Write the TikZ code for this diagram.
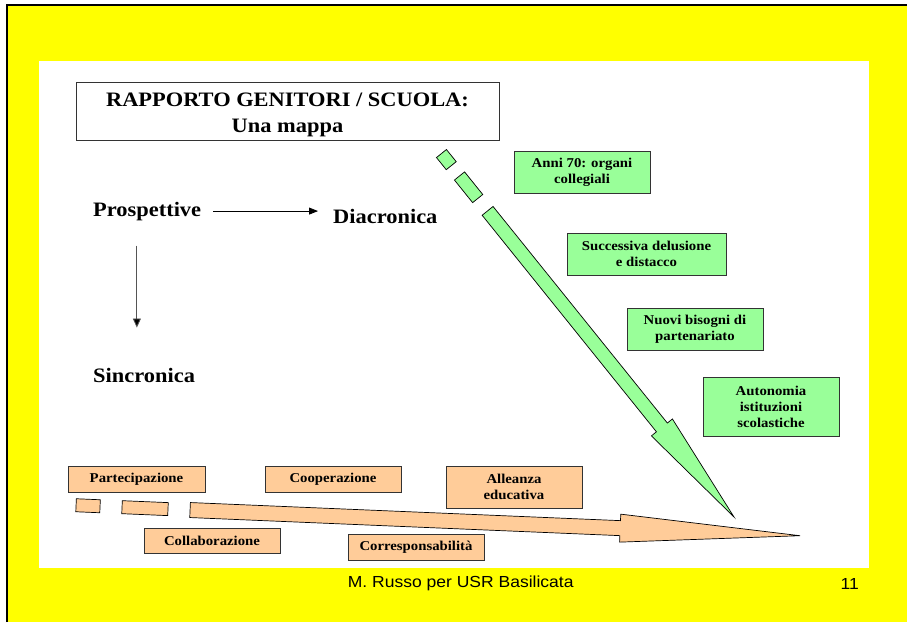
\documentclass[tikz,border=0pt]{standalone}
\usepackage{fontspec}
\setmainfont[FakeStretch=1.094]{Liberation Serif}
\newfontfamily\footfont[FakeStretch=1.094]{Liberation Sans}
\usetikzlibrary{arrows.meta}
\definecolor{slideyellow}{HTML}{FFFF00}
\definecolor{boxgreen}{HTML}{99FF99}
\definecolor{boxorange}{HTML}{FFCC99}
\definecolor{edgegray}{HTML}{333333}
\definecolor{stemgray}{HTML}{555555}

\begin{document}
\begin{tikzpicture}[x=1pt,y=-1pt,
  titlebox/.style={draw=edgegray, line width=0.9pt, fill=white,
    minimum width=423pt, minimum height=58pt, inner sep=0pt},
  titletext/.style={align=center, inner sep=0pt,
    font=\bfseries\fontsize{20.5}{26}\selectfont},
  labelbox/.style={draw=edgegray, line width=0.9pt, minimum width=136pt,
    align=center, inner sep=0pt, font=\bfseries\fontsize{13.5}{16}\selectfont},
  greenbox/.style={labelbox, fill=boxgreen},
  orangebox/.style={labelbox, fill=boxorange},
  bigword/.style={inner sep=0pt, anchor=base west,
    font=\bfseries\fontsize{20.5}{24}\selectfont},
  blockarrow/.style={draw=black, line width=0.7pt, line join=miter},
  linkarrow/.style={-{Triangle[length=9pt,width=7pt]}, line width=0.8pt},
  footer/.style={inner sep=0pt, font=\footfont\fontsize{16}{19}\selectfont}
]
\useasboundingbox (0,0) rectangle (907,622);

% slide background and frame
\fill[white] (0,0) rectangle (907,622);
\fill[slideyellow] (7,5) rectangle (907,622);
\draw[line width=2pt] (7,622) -- (7,5) -- (907,5);
\fill[white] (39,61) rectangle (869,568);

% title
\node[titlebox] (title) at (287.5,111) {};
\node[titletext] (titlelabel) at ([yshift=-3.5pt]title.center)
  {RAPPORTO GENITORI / SCUOLA:\\Una mappa};

% perspectives
\node[bigword] (prosp) at (93,216) {Prospettive};
\node[bigword] (diac) at (333,223) {Diacronica};
\node[bigword] (sinc) at (93,382) {Sincronica};
\draw[linkarrow, shorten <=12pt, shorten >=15pt] (prosp.east) -- (prosp.east -| diac.west);
\draw[linkarrow, draw=stemgray, -{Triangle[length=9pt,width=8pt,fill=black]},
  shorten <=25pt, shorten >=40pt]
  ([xshift=-10.3pt]prosp.south) -- ([xshift=-10.3pt]prosp.south |- sinc.north);

% diachronic block arrow (dashed start)
\begin{scope}[shift={(734,517)}, rotate=128.83]
  \filldraw[blockarrow, fill=boxgreen]
    (0,0) -- (115,13.5) -- (115,7) -- (393,7) -- (393,-7)
    -- (115,-7) -- (115,-13.5) -- cycle;
  \filldraw[blockarrow, fill=boxgreen] (408.8,-6.5) rectangle (437.8,6.5);
  \filldraw[blockarrow, fill=boxgreen] (451,-6.4) rectangle (466.6,6.4);
\end{scope}

% synchronic block arrow (dashed start)
\begin{scope}[shift={(800,535.7)}, rotate=177.59]
  \filldraw[blockarrow, fill=boxorange]
    (0,0) -- (180,14) -- (180,7.5) -- (610.5,7.5) -- (610.5,-7.5)
    -- (180,-7.5) -- (180,-14) -- cycle;
  \filldraw[blockarrow, fill=boxorange] (632.6,-6.5) rectangle (678.6,6.5);
  \filldraw[blockarrow, fill=boxorange] (700.6,-6.5) rectangle (724.6,6.5);
\end{scope}

% diachronic stages
\node[greenbox, minimum height=42pt] (anni) at (582,172) {Anni 70: organi\\collegiali};
\node[greenbox, minimum width=159pt, minimum height=42pt] (delus) at (646.5,254) {Successiva delusione\\e distacco};
\node[greenbox, minimum height=42pt] (bisogni) at (695,329) {Nuovi bisogni di\\partenariato};
\node[greenbox, minimum height=59pt] (auton) at (771,406.5) {Autonomia\\istituzioni\\scolastiche};

% synchronic stages
\node[orangebox, minimum width=137pt, minimum height=26pt] (partec) at (136.5,479) {Partecipazione};
\node[orangebox, minimum height=26pt] (cooper) at (333,479) {Cooperazione};
\node[orangebox, minimum height=42pt] (allean) at (514,487) {Alleanza\\educativa};
\node[orangebox, minimum height=25pt] (collab) at (212,540.5) {Collaborazione};
\node[orangebox, minimum height=26pt] (corresp) at (416,547) {Corresponsabilità};

% footer
\node[footer] (author) at (460.7,583.5) {M. Russo per USR Basilicata};
\node[footer] (pagenum) at (849.8,583.5) {11};
\end{tikzpicture}
\end{document}
